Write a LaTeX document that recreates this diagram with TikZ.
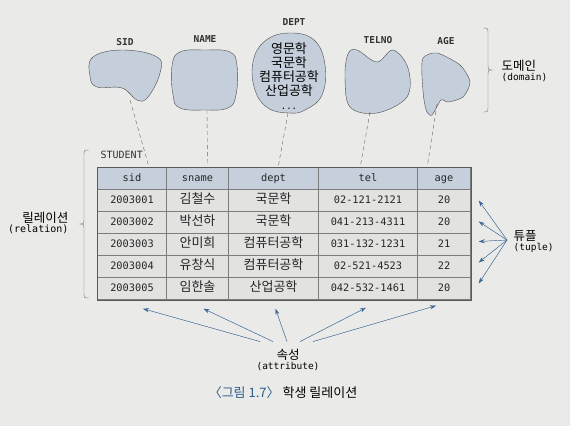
\documentclass[tikz,border=0pt]{standalone}
\usepackage{fontspec}
\setmainfont{Noto Sans CJK KR}
\setmonofont{DejaVu Sans Mono}
\newfontfamily\kr{Noto Sans CJK KR}
\usetikzlibrary{matrix,calc,arrows.meta}
\definecolor{pagebg}{RGB}{234,234,232}
\definecolor{blobfill}{RGB}{196,207,219}
\definecolor{headfill}{RGB}{197,208,220}
\definecolor{cellfill}{RGB}{226,226,225}
\definecolor{gridline}{RGB}{125,125,125}
\definecolor{arrowblue}{RGB}{58,102,148}
\definecolor{capblue}{RGB}{42,92,142}
\newcommand{\hg}[1]{{\kr\fontsize{12.5}{15}\selectfont #1}}
\newcommand{\monotxt}[1]{{\ttfamily\fontsize{9.5}{12}\selectfont #1}}

\begin{document}
\begin{tikzpicture}[x=1pt,y=-1pt,semithick]
 \tikzstyle{blob}=[draw=black!70, fill=blobfill, thin]
 \tikzstyle{domname}=[font=\ttfamily\bfseries\fontsize{9.5}{11}\selectfont, text=black!80]
 \tikzstyle{cell}=[draw=gridline, fill=cellfill, thin, anchor=center, minimum height=22pt, text height=9pt, text depth=3pt, inner sep=0pt, text=black!85, font=\ttfamily\fontsize{10.3}{12}\selectfont]
 \tikzstyle{head}=[fill=headfill, font=\ttfamily\fontsize{10.3}{12}\selectfont]
 \tikzstyle{hangul}=[font=\kr\fontsize{13}{15}\selectfont]
 \tikzstyle{link}=[draw=black!60, thin, dash pattern=on 4pt off 3pt]
 \tikzstyle{pointer}=[-{Stealth[length=6pt,width=4pt]}, draw=arrowblue, fill=arrowblue, thin]
 \tikzstyle{bracket}=[draw=black!55, thin]

 \fill[pagebg] (0,0) rectangle (570,426);
 \useasboundingbox (0,0) rectangle (570,426);

 % domains
 \draw[blob] plot[smooth cycle, tension=0.7] coordinates {(93,57) (123,50) (157,57) (160,73) (148,97) (137,100) (122,88) (97,87) (90,76)};
 \draw[blob] plot[smooth cycle, tension=0.7] coordinates {(180,52) (205,50) (230,52) (237,66) (236,95) (228,108) (205,110) (180,108) (173,95) (172,66)};
 \draw[blob] plot[smooth cycle, tension=0.7] coordinates {(289,33) (314,40) (325,65) (322,95) (305,110) (289,113) (268,108) (255,90) (253,62) (265,41)};
 \draw[blob] plot[smooth cycle, tension=0.6] coordinates {(348,54) (357,50) (377,62) (393,50) (408,68) (407,97) (377,113) (350,107) (345,77)};
 \draw[blob] plot[smooth cycle, tension=0.45] coordinates {(423,58) (437,53) (460,65) (470,82) (463,97) (448,102) (441,100) (432,115) (427,112) (424,100) (422,77)};

 \node[domname] (sid)   at (125,42) {SID};
 \node[domname] (name)  at (205,39) {NAME};
 \node[domname] (dept)  at (294,22) {DEPT};
 \node[domname] (telno) at (378,40) {TELNO};
 \node[domname] (age)   at (446,41) {AGE};
 \node[align=center, font=\kr\fontsize{13}{13.8}\selectfont] (deptvals) at (289,76)
   {영문학\\국문학\\컴퓨터공학\\산업공학\\{\ttfamily\fontsize{9}{11}\selectfont ...}};

 \coordinate (sid-b)   at (130,100);
 \coordinate (name-b)  at (207,110);
 \coordinate (dept-b)  at (288,113);
 \coordinate (telno-b) at (370,112);
 \coordinate (age-b)   at (437,104);

 % relation
 \node[domname, font=\ttfamily\fontsize{10}{12}\selectfont, anchor=west] (student) at (97,155) {STUDENT};
 \matrix (tbl) [matrix of nodes, anchor=north west, inner sep=0pt, nodes={cell},
   column sep=-0.4pt, row sep=-0.4pt,
   column 1/.style={nodes={minimum width=69pt}},
   column 2/.style={nodes={minimum width=62pt,hangul}},
   column 3/.style={nodes={minimum width=90pt,hangul}},
   column 4/.style={nodes={minimum width=99pt}},
   column 5/.style={nodes={minimum width=53pt}}] at (97,167) {
   |[head]| sid & |[head]| sname & |[head]| dept & |[head]| tel & |[head]| age \\
   2003001 & 김철수 & 국문학 & 02-121-2121 & 20 \\
   2003002 & 박선하 & 국문학 & 041-213-4311 & 20 \\
   2003003 & 안미희 & 컴퓨터공학 & 031-132-1231 & 21 \\
   2003004 & 유창식 & 컴퓨터공학 & 02-521-4523 & 22 \\
   2003005 & 임한솔 & 산업공학 & 042-532-1461 & 20 \\
 };
 \draw[black!65, semithick] (tbl.north west) rectangle (tbl.south east);

 \draw[link] (sid-b)   -- ($(tbl-1-1.north)+(16.5,-2)$);
 \draw[link] (name-b)  -- ($(tbl-1-2.north)+(10,-2)$);
 \draw[link] (dept-b)  -- ($(tbl-1-3.north)+(5,-2)$);
 \draw[link] (telno-b) -- ($(tbl-1-4.north)+(-7.5,-2)$);
 \draw[link] (age-b)   -- ($(tbl-1-5.north)+(-16.5,-2)$);

 % braces and labels
 \coordinate (rel-t) at (89,150);
 \coordinate (rel-b) at (89,298);
 \draw[bracket] (rel-t) .. controls (84,150) .. (84,156) -- (84,218)
   .. controls (84,224) .. (79,224) .. controls (84,224) .. (84,230)
   -- (84,292) .. controls (84,298) .. (rel-b);
 \node[anchor=east, align=right] (rel) at (72,223) {\hg{릴레이션}\\[-2pt]{\ttfamily\fontsize{10}{12}\selectfont (relation)}};

 \coordinate (dom-t) at (483,28);
 \coordinate (dom-b) at (483,112);
 \draw[bracket] (dom-t) .. controls (488,28) .. (488,34) -- (488,64)
   .. controls (488,70) .. (493,70) .. controls (488,70) .. (488,76)
   -- (488,106) .. controls (488,112) .. (dom-b);
 \node[anchor=west, align=left] (dom) at (498,71) {\hg{도메인}\\[-2pt]\monotxt{(domain)}};

 \node[anchor=west, align=left] (tup) at (510,241) {\hg{튜플}\\[-2pt]\monotxt{(tuple)}};
 \coordinate (tupfan) at ($(tup.west)+(-3,-1)$);
 \foreach \r/\dy in {2/0,3/-1,4/-3,5/-4,6/-5}
   \draw[pointer] (tupfan) -- ($(tbl-\r-5.east)+(8,\dy)$);

 \node[align=center] (attr) at (288,360) {\hg{속성}\\[-2pt]\monotxt{(attribute)}};
 \foreach \c/\dx/\hx/\hy in {1/-28/11/9, 2/-15/6/9, 3/-1/2/9, 4/12/-2/8, 5/25/-8/6}
   \draw[pointer] ($(attr.north)+(\dx,-4)$) -- ($(tbl-6-\c.south)+(\hx,\hy)$);

 % caption
 \node[font=\kr\fontsize{13}{15}\selectfont] (cap) at (283,393) {{\color{capblue}〈그림 1.7〉} 학생 릴레이션};
\end{tikzpicture}
\end{document}
